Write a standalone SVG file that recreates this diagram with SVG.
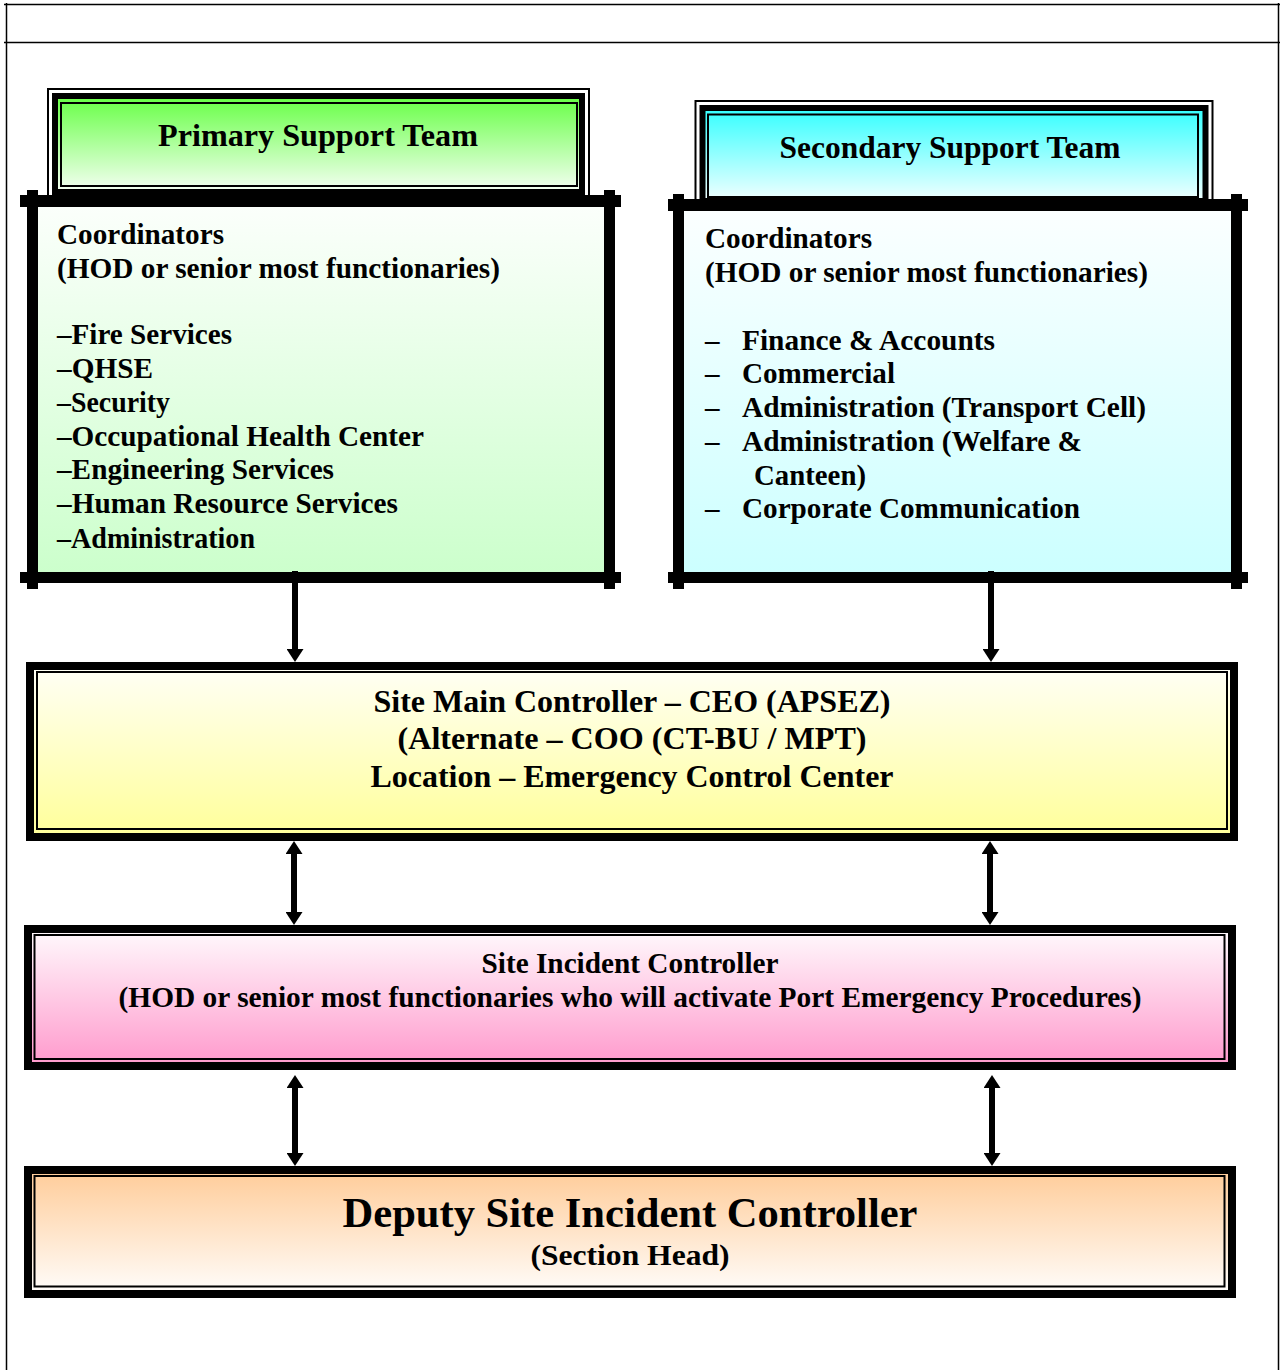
<svg xmlns="http://www.w3.org/2000/svg" width="1280" height="1370" viewBox="0 0 1280 1370">
  <style>
    text { font-family: "Liberation Serif", "Times New Roman", serif; font-weight: bold; fill: #000; }
    .hdr { font-size: 32px; text-anchor: middle; }
    .body { font-size: 29px; }
    .mid { text-anchor: middle; }
    .frame { fill: #000; }
    .thin { fill: none; stroke: #000; stroke-width: 2; }
    .conn { stroke: #000; stroke-width: 6; fill: none; }
  </style>
  <defs>
    <linearGradient id="gGreenHdr" x1="0" y1="0" x2="0" y2="1">
      <stop offset="0" stop-color="#66ff44"/>
      <stop offset="1" stop-color="#f6fff4"/>
    </linearGradient>
    <linearGradient id="gGreenBody" x1="0" y1="0" x2="0" y2="1">
      <stop offset="0" stop-color="#fbfffb"/>
      <stop offset="1" stop-color="#ccffcc"/>
    </linearGradient>
    <linearGradient id="gCyanHdr" x1="0" y1="0" x2="0" y2="1">
      <stop offset="0" stop-color="#33ffff"/>
      <stop offset="1" stop-color="#f2ffff"/>
    </linearGradient>
    <linearGradient id="gCyanBody" x1="0" y1="0" x2="0" y2="1">
      <stop offset="0" stop-color="#fbffff"/>
      <stop offset="1" stop-color="#ccffff"/>
    </linearGradient>
    <linearGradient id="gYellow" x1="0" y1="0" x2="0" y2="1">
      <stop offset="0" stop-color="#fffff6"/>
      <stop offset="1" stop-color="#ffff99"/>
    </linearGradient>
    <linearGradient id="gPink" x1="0" y1="0" x2="0" y2="1">
      <stop offset="0" stop-color="#fffafd"/>
      <stop offset="1" stop-color="#ff99cc"/>
    </linearGradient>
    <linearGradient id="gOrange" x1="0" y1="0" x2="0" y2="1">
      <stop offset="0" stop-color="#ffcc99"/>
      <stop offset="1" stop-color="#fffdfb"/>
    </linearGradient>
    <marker id="ah" viewBox="0 0 13 17" markerWidth="13" markerHeight="17" refX="0" refY="8.5" orient="auto-start-reverse" markerUnits="userSpaceOnUse">
      <path d="M0,0 L13,8.5 L0,17 Z" fill="#000"/>
    </marker>
  </defs>

  <!-- page frame -->
  <g id="page-frame" stroke="#000" stroke-width="1.5" fill="none">
    <line x1="4" y1="4.5" x2="1280" y2="4.5"/>
    <line x1="4" y1="42.5" x2="1280" y2="42.5"/>
    <line x1="6.5" y1="3" x2="6.5" y2="1370"/>
    <line x1="1278.5" y1="3" x2="1278.5" y2="1370"/>
  </g>

  <!-- Primary Support Team header -->
  <g id="primary-header">
    <rect x="48" y="89" width="541" height="120" fill="#fff" stroke="#000" stroke-width="2"/>
    <rect x="55" y="96" width="527" height="96" fill="url(#gGreenHdr)" stroke="#000" stroke-width="6"/>
    <rect x="61" y="103" width="516" height="83" class="thin"/>
    <text class="hdr" x="318" y="146" textLength="320" lengthAdjust="spacingAndGlyphs">Primary Support Team</text>
  </g>

  <!-- Secondary Support Team header -->
  <g id="secondary-header">
    <rect x="695.5" y="101" width="517" height="110" fill="#fff" stroke="#000" stroke-width="2"/>
    <rect x="702.5" y="108" width="503" height="93" fill="url(#gCyanHdr)" stroke="#000" stroke-width="6"/>
    <rect x="708" y="114.5" width="490" height="82.5" class="thin"/>
    <text class="hdr" x="950" y="158" textLength="341" lengthAdjust="spacingAndGlyphs">Secondary Support Team</text>
  </g>

  <!-- Primary coordinators box -->
  <g id="primary-coordinators">
    <rect x="38" y="207" width="566" height="365" fill="url(#gGreenBody)"/>
    <rect class="frame" x="20" y="195" width="601" height="12"/>
    <rect class="frame" x="20" y="572" width="601" height="11"/>
    <rect class="frame" x="27" y="190" width="11" height="399"/>
    <rect class="frame" x="604" y="190" width="11" height="399"/>
    <text class="body" x="57" y="244" textLength="167" lengthAdjust="spacingAndGlyphs">Coordinators</text>
    <text class="body" x="57" y="278" textLength="443" lengthAdjust="spacingAndGlyphs">(HOD or senior most functionaries)</text>
    <text class="body" x="57" y="344" textLength="175" lengthAdjust="spacingAndGlyphs">–Fire Services</text>
    <text class="body" x="57" y="378" textLength="96" lengthAdjust="spacingAndGlyphs">–QHSE</text>
    <text class="body" x="57" y="412" textLength="113" lengthAdjust="spacingAndGlyphs">–Security</text>
    <text class="body" x="57" y="446" textLength="367" lengthAdjust="spacingAndGlyphs">–Occupational Health Center</text>
    <text class="body" x="57" y="479" textLength="277" lengthAdjust="spacingAndGlyphs">–Engineering Services</text>
    <text class="body" x="57" y="513" textLength="341" lengthAdjust="spacingAndGlyphs">–Human Resource Services</text>
    <text class="body" x="57" y="548" textLength="198" lengthAdjust="spacingAndGlyphs">–Administration</text>
  </g>

  <!-- Secondary coordinators box -->
  <g id="secondary-coordinators">
    <rect x="684" y="211" width="547" height="361" fill="url(#gCyanBody)"/>
    <rect class="frame" x="668" y="199" width="580" height="12"/>
    <rect class="frame" x="668" y="572" width="580" height="11"/>
    <rect class="frame" x="673" y="194" width="11" height="395"/>
    <rect class="frame" x="1231" y="194" width="11" height="395"/>
    <text class="body" x="705" y="248" textLength="167" lengthAdjust="spacingAndGlyphs">Coordinators</text>
    <text class="body" x="705" y="282" textLength="443" lengthAdjust="spacingAndGlyphs">(HOD or senior most functionaries)</text>
    <text class="body" x="705" y="350">–</text>
    <text class="body" x="742" y="350" textLength="253" lengthAdjust="spacingAndGlyphs">Finance &amp; Accounts</text>
    <text class="body" x="705" y="383">–</text>
    <text class="body" x="742" y="383" textLength="153" lengthAdjust="spacingAndGlyphs">Commercial</text>
    <text class="body" x="705" y="417">–</text>
    <text class="body" x="742" y="417" textLength="404" lengthAdjust="spacingAndGlyphs">Administration (Transport Cell)</text>
    <text class="body" x="705" y="451">–</text>
    <text class="body" x="742" y="451" textLength="340" lengthAdjust="spacingAndGlyphs">Administration (Welfare &amp;</text>
    <text class="body" x="754" y="485" textLength="112" lengthAdjust="spacingAndGlyphs">Canteen)</text>
    <text class="body" x="705" y="518">–</text>
    <text class="body" x="742" y="518" textLength="338" lengthAdjust="spacingAndGlyphs">Corporate Communication</text>
  </g>

  <!-- Site Main Controller -->
  <g id="site-main-controller">
    <rect x="30" y="666" width="1204" height="171" fill="url(#gYellow)" stroke="#000" stroke-width="8"/>
    <rect x="37" y="672" width="1190" height="157" class="thin"/>
    <text class="mid" font-size="32" x="632" y="712" textLength="517" lengthAdjust="spacingAndGlyphs">Site Main Controller – CEO (APSEZ)</text>
    <text class="mid" font-size="32" x="632" y="749" textLength="469" lengthAdjust="spacingAndGlyphs">(Alternate – COO (CT-BU / MPT)</text>
    <text class="mid" font-size="32" x="632" y="787" textLength="523" lengthAdjust="spacingAndGlyphs">Location – Emergency Control Center</text>
  </g>

  <!-- Site Incident Controller -->
  <g id="site-incident-controller">
    <rect x="28" y="929" width="1204" height="137" fill="url(#gPink)" stroke="#000" stroke-width="8"/>
    <rect x="34.5" y="935" width="1190" height="124" class="thin"/>
    <text class="mid" font-size="30" x="630" y="973" textLength="297" lengthAdjust="spacingAndGlyphs">Site Incident Controller</text>
    <text class="mid" font-size="30" x="630" y="1007" textLength="1023" lengthAdjust="spacingAndGlyphs">(HOD or senior most functionaries who will activate Port Emergency Procedures)</text>
  </g>

  <!-- Deputy Site Incident Controller -->
  <g id="deputy-site-incident-controller">
    <rect x="28" y="1170" width="1204" height="124" fill="url(#gOrange)" stroke="#000" stroke-width="8"/>
    <rect x="34.5" y="1176" width="1190" height="110.5" class="thin"/>
    <text class="mid" font-size="42" x="630" y="1227" textLength="575" lengthAdjust="spacingAndGlyphs">Deputy Site Incident Controller</text>
    <text class="mid" font-size="30" x="630" y="1265" textLength="199" lengthAdjust="spacingAndGlyphs">(Section Head)</text>
  </g>

  <!-- connectors -->
  <g id="connectors">
    <line class="conn" x1="295" y1="571" x2="295" y2="649" marker-end="url(#ah)"/>
    <line class="conn" x1="991" y1="571" x2="991" y2="649" marker-end="url(#ah)"/>
    <line class="conn" x1="294" y1="854" x2="294" y2="912" marker-start="url(#ah)" marker-end="url(#ah)"/>
    <line class="conn" x1="990" y1="854" x2="990" y2="912" marker-start="url(#ah)" marker-end="url(#ah)"/>
    <line class="conn" x1="295" y1="1088" x2="295" y2="1153" marker-start="url(#ah)" marker-end="url(#ah)"/>
    <line class="conn" x1="992" y1="1088" x2="992" y2="1153" marker-start="url(#ah)" marker-end="url(#ah)"/>
  </g>
</svg>
